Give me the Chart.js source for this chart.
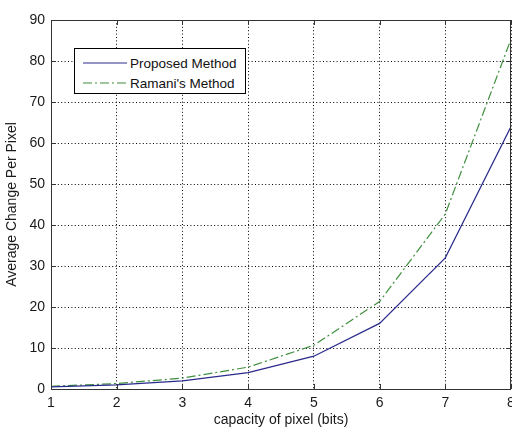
<!DOCTYPE html>
<html>
<head>
<meta charset="utf-8">
<script src="https://cdn.jsdelivr.net/npm/chart.js@4/dist/chart.umd.min.js"></script>
<style>
  html, body { margin: 0; padding: 0; background: #fff; }
  #wrap { position: relative; width: 512px; height: 427px; overflow: hidden; }
  #box { position: absolute; left: 0; top: 0; width: 530px; height: 427px; }
  #legend {
    position: absolute; left: 74px; top: 48px; width: 170px; height: 44px;
    border: 1px solid #000; background: #fff;
    font-family: "Liberation Sans", Arial, sans-serif; font-size: 13.5px; color: #111;
  }
  #legend .row { position: absolute; left: 0; height: 18px; display: flex; align-items: center; }
  #legend svg { margin-left: 8px; margin-right: 3px; }
</style>
</head>
<body>
<div id="wrap">
  <div id="box"><canvas id="chart"></canvas></div>
  <div id="legend"></div>
</div>
<script>
// =========================
// DATA
// =========================
const capacity = [1, 2, 3, 4, 5, 6, 7, 8];
const proposed = [0.5, 1, 2, 4, 8, 16, 32, 64];
const ramani = [0.67, 1.33, 2.67, 5.33, 10.67, 21.33, 42.67, 85.33];
const seriesNames = ["Proposed Method", "Ramani's Method"];
const seriesColors = ['#2a2a8c', '#3f8f3f'];
const seriesDash = [[], [9, 3, 2, 3]];

const FONT = '"Liberation Sans", Arial, sans-serif';

// frame + inward ticks, like the original plot box
const framePlugin = {
    id: 'frame',
    afterDraw(chart) {
        const { ctx, chartArea: a, scales } = chart;
        ctx.save();
        ctx.strokeStyle = '#333';
        ctx.lineWidth = 1;
        ctx.setLineDash([]);
        ctx.beginPath();
        scales.x.ticks.forEach(t => {
            const px = Math.round(scales.x.getPixelForValue(t.value)) + 0.5;
            ctx.moveTo(px, a.bottom); ctx.lineTo(px, a.bottom - 5);
            ctx.moveTo(px, a.top); ctx.lineTo(px, a.top + 5);
        });
        scales.y.ticks.forEach(t => {
            const py = Math.round(scales.y.getPixelForValue(t.value)) + 0.5;
            ctx.moveTo(a.left, py); ctx.lineTo(a.left + 5, py);
            ctx.moveTo(a.right, py); ctx.lineTo(a.right - 5, py);
        });
        ctx.stroke();
        ctx.strokeRect(Math.round(a.left) + 0.5, Math.round(a.top) + 0.5,
            Math.round(a.right - a.left) - 1, Math.round(a.bottom - a.top));
        ctx.restore();
    }
};

const datasets = [proposed, ramani].map((vals, i) => ({
    label: seriesNames[i],
    data: capacity.map((c, j) => ({ x: c, y: vals[j] })),
    borderColor: seriesColors[i],
    borderWidth: 1.2,
    borderDash: seriesDash[i],
    pointRadius: 0,
    tension: 0,
    fill: false
}));

new Chart(document.getElementById('chart'), {
    type: 'line',
    data: { datasets },
    options: {
        responsive: true,
        maintainAspectRatio: false,
        animation: false,
        layout: { padding: { top: 20, right: 19, left: 0, bottom: 0 } },
        plugins: { legend: { display: false }, tooltip: { enabled: false } },
        scales: {
            x: {
                type: 'linear', min: 1, max: 8,
                ticks: { stepSize: 1, padding: 6, color: '#1a1a1a', font: { family: FONT, size: 14 } },
                grid: { color: '#000', lineWidth: 1, drawTicks: false },
                border: { display: false, dash: [1, 2.4] },
                title: { display: true, text: 'capacity of pixel (bits)', color: '#1a1a1a',
                    font: { family: FONT, size: 14 }, padding: { top: 0, bottom: -2 } },
                afterFit(scale) { scale.height = 38; }
            },
            y: {
                min: 0, max: 90,
                ticks: { stepSize: 10, padding: 6, color: '#1a1a1a', font: { family: FONT, size: 14 } },
                grid: { color: '#000', lineWidth: 1, drawTicks: false },
                border: { display: false, dash: [1, 2.4] },
                title: { display: true, text: 'Average Change Per Pixel', color: '#1a1a1a',
                    font: { family: FONT, size: 14 }, padding: { top: 4, bottom: 0 } },
                afterFit(scale) { scale.width = 51; }
            }
        }
    },
    plugins: [framePlugin]
});

// =========================
// LEGEND (inside plot)
// =========================
document.getElementById('legend').innerHTML = seriesNames.map((name, i) => `
    <div class="row" style="top:${5 + i * 20}px">
        <svg width="44" height="4"><line x1="0" y1="2" x2="44" y2="2"
            stroke="${seriesColors[i]}" stroke-width="1.2"
            stroke-dasharray="${seriesDash[i].join(' ')}"/></svg>
        <span>${name}</span>
    </div>`).join('');
</script>
</body>
</html>
